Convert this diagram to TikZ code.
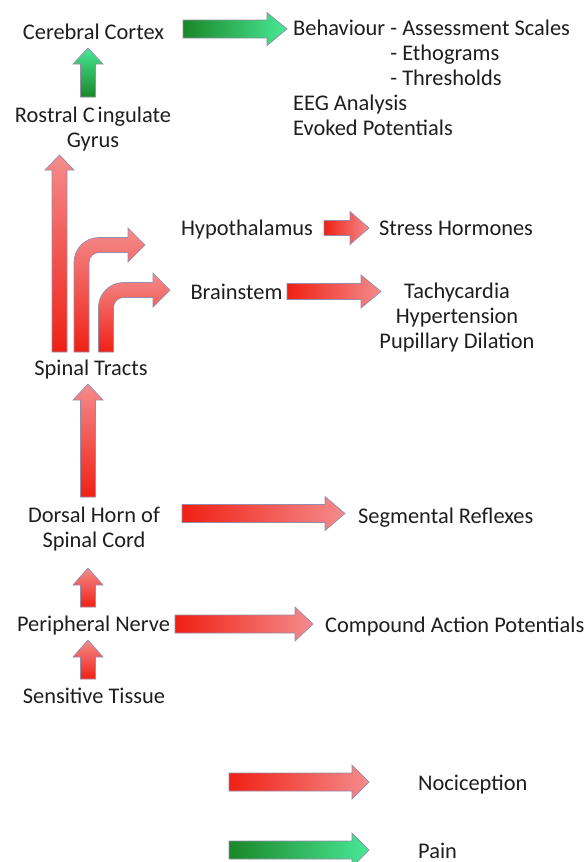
\documentclass[tikz,border=0pt]{standalone}
\usepackage{fontspec}
\setmainfont{Carlito}
\definecolor{redtail}{RGB}{240,32,20}
\definecolor{redhead}{RGB}{244,140,140}
\definecolor{greentail}{RGB}{26,135,40}
\definecolor{greenhead}{RGB}{72,232,150}
\definecolor{arrowedge}{RGB}{150,140,172}
\definecolor{txtcol}{RGB}{30,30,30}
% horizontal fat arrow: style, x tail, x tip, y centre, shaft half, head half, head base x
\newcommand\hfat[7]{%
  \path[#1] (#2,#4-#5) -- (#7,#4-#5) -- (#7,#4-#6) -- (#3,#4) -- (#7,#4+#6)
    -- (#7,#4+#5) -- (#2,#4+#5) -- cycle;}
% vertical fat arrow: style, x centre, y tail, y tip, shaft half, head half, head base y
\newcommand\vfat[7]{%
  \path[#1] (#2-#5,#3) -- (#2-#5,#7) -- (#2-#6,#7) -- (#2,#4) -- (#2+#6,#7)
    -- (#2+#5,#7) -- (#2+#5,#3) -- cycle;}
% bent fat arrow: style, x centre of rise, y tail, y centre of run, x tip, head base x, shaft half, head half, inner radius
\newcommand\bfat[9]{%
  \path[#1] (#2-#7,#3) -- (#2-#7,#4-#7+#9+2*#7)
    .. controls (#2-#7,#4-#7+0.448*#9+0.896*#7) and (#2-#7+0.448*#9+0.896*#7,#4-#7) ..
    (#2-#7+#9+2*#7,#4-#7) -- (#6,#4-#7) -- (#6,#4-#8) -- (#5,#4) -- (#6,#4+#8)
    -- (#6,#4+#7) -- (#2+#7+#9,#4+#7)
    .. controls (#2+#7+0.448*#9,#4+#7) and (#2+#7,#4+#7+0.448*#9) ..
    (#2+#7,#4+#7+#9) -- (#2+#7,#3) -- cycle;}
\tikzset{
  txt/.style={font=\fontsize{22.4}{25}\selectfont, text=txtcol, inner sep=0pt},
  redh/.style={draw=arrowedge, line width=0.7pt, left color=redtail, right color=redhead},
  greenh/.style={draw=arrowedge, line width=0.7pt, left color=greentail, right color=greenhead},
  redv/.style={draw=arrowedge, line width=0.7pt, bottom color=redtail, top color=redhead},
  greenv/.style={draw=arrowedge, line width=0.7pt, bottom color=greentail, top color=greenhead},
}
\begin{document}
\begin{tikzpicture}[x=1pt,y=-1pt]
\useasboundingbox (0,0) rectangle (587,862);
% text nodes (multi-line nodes are placed by the baseline of their last line)
\node[txt,anchor=base] (cc) at (93.5,39) {Cerebral Cortex};
\node[txt,anchor=base,align=center] (rcg) at (93,147) {Rostral C\kern3pt ingulate\\Gyrus};
\node[txt,anchor=base west,align=left] (beh) at (293,135.5) {Behaviour - Assessment Scales\\
  \phantom{Behaviour\ }- Ethograms\\
  \phantom{Behaviour\ }- Thresholds\\
  EEG Analysis\\
  Evoked Potentials};
\node[txt,anchor=base] (hyp) at (247,235.5) {Hypothalamus};
\node[txt,anchor=base] (sh) at (456,235.5) {Stress Hormones};
\node[txt,anchor=base] (bs) at (236.5,299) {Brainstem};
\node[txt,anchor=base,align=center] (tach) at (457,348.5) {Tachycardia\\Hypertension\\Pupillary Dilation};
\node[txt,anchor=base] (st) at (91,375) {Spinal Tracts};
\node[txt,anchor=base,align=center] (dh) at (94,547.5) {Dorsal Horn of\\Spinal Cord};
\node[txt,anchor=base west] (sr) at (358,523) {Segmental Reflexes};
\node[txt,anchor=base] (pn) at (93.5,631.5) {Peripheral Nerve};
\node[txt,anchor=base west] (cap) at (325,632) {Compound Action Potentials};
\node[txt,anchor=base] (sti) at (94,703) {Sensitive Tissue};
\node[txt,anchor=base west] (noc) at (418,790) {Nociception};
\node[txt,anchor=base west] (pain) at (418,858) {Pain};
% green arrows
\vfat{greenv}{88}{97}{48}{7.5}{15}{64}
\hfat{greenh}{183}{287}{29}{9}{16.5}{267}
% spinal tracts
\vfat{redv}{59.5}{352}{155}{7.5}{14.5}{170}
\bfat{redv}{81.5}{352}{245}{145}{128}{7.5}{17}{10}
\bfat{redv}{106}{352}{290}{170}{153}{7.5}{17}{10}
% brain outputs
\hfat{redh}{324}{369}{228}{7.5}{16.5}{350}
\hfat{redh}{287}{381}{291.5}{8}{16.5}{361}
% cord
\vfat{redv}{88}{497}{384}{7.5}{15}{400}
\hfat{redh}{182}{345}{513.5}{9}{17}{325}
\vfat{redv}{88}{607}{568}{7.5}{15}{585}
\hfat{redh}{175}{313}{624}{9}{17}{295}
\vfat{redv}{88}{679}{640}{7.5}{15}{657}
% legend
\hfat{redh}{229}{369}{782}{9}{17}{352}
\hfat{greenh}{229}{369}{850}{9}{17}{352}
\end{tikzpicture}
\end{document}
